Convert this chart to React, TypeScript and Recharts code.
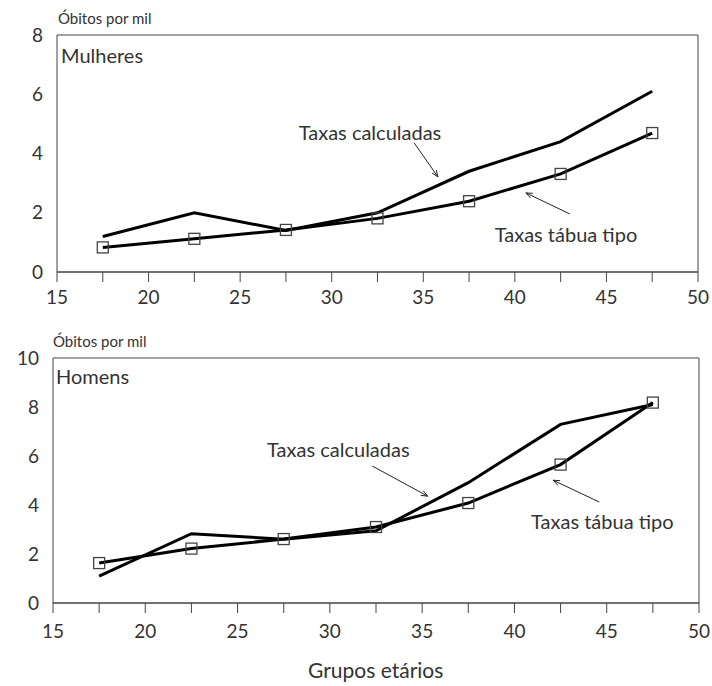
import React from 'react';
import {
  LineChart,
  Line,
  XAxis,
  YAxis,
  ReferenceArea,
  ReferenceLine,
  ReferenceDot,
} from 'recharts';

// midpoints of the five-year age groups
const ageGroups = [17.5, 22.5, 27.5, 32.5, 37.5, 42.5, 47.5];

const mulheresCalculadas = [1.2, 2.0, 1.4, 2.0, 3.4, 4.4, 6.1];
const mulheresTabua = [0.83, 1.12, 1.42, 1.81, 2.39, 3.31, 4.69];

const homensCalculadas = [1.1, 2.83, 2.6, 2.95, 4.91, 7.29, 8.1];
const homensTabua = [1.63, 2.22, 2.61, 3.1, 4.08, 5.65, 8.18];

const xTicks = [15, 17.5, 20, 22.5, 25, 27.5, 30, 32.5, 35, 37.5, 40, 42.5, 45, 47.5, 50];
const yTicksMulheres = [0, 2, 4, 6, 8];
const yTicksHomens = [0, 2, 4, 6, 8, 10];

// annotation text anchors and arrows, in data units [x, y]
const mulheresNotes = [
  { text: 'Taxas calculadas', at: [28.2, 4.7], from: [34.5, 4.36], to: [35.8, 3.21] },
  { text: 'Taxas tábua tipo', at: [38.9, 1.25], from: [43.0, 1.96], to: [40.6, 2.67] },
];
const homensNotes = [
  { text: 'Taxas calculadas', at: [26.6, 6.23], from: [32.3, 5.59], to: [35.3, 4.36] },
  { text: 'Taxas tábua tipo', at: [40.9, 3.31], from: [44.6, 4.12], to: [42.1, 5.01] },
];

const FONT = 'Lato, "Open Sans", sans-serif';
const INK = '#333';

const buildRows = (calc: number[], tabua: number[]) =>
  ageGroups.map((age, i) => ({ age, calculadas: calc[i], tabua: tabua[i] }));

const SquareDot = (props: any) => {
  const { cx, cy } = props;
  if (cx == null || cy == null) return null;
  return <rect x={cx - 5.5} y={cy - 5.5} width={11} height={11} fill="none" stroke="#444" strokeWidth={1.3} />;
};

const ArrowShape = (props: any) => {
  const { x1, y1, x2, y2 } = props;
  if (x1 == null) return null;
  const ang = Math.atan2(y2 - y1, x2 - x1);
  const len = 7;
  const spread = 0.38;
  const ax = x2 - len * Math.cos(ang - spread);
  const ay = y2 - len * Math.sin(ang - spread);
  const bx = x2 - len * Math.cos(ang + spread);
  const by = y2 - len * Math.sin(ang + spread);
  return (
    <g>
      <line x1={x1} y1={y1} x2={x2} y2={y2} stroke="#222" strokeWidth={1} />
      <path d={`M${ax},${ay} L${x2},${y2} L${bx},${by}`} fill="none" stroke="#222" strokeWidth={1} />
    </g>
  );
};

const NoteText = (text: string) => (props: any) => {
  const { cx, cy } = props;
  if (cx == null) return null;
  return (
    <text x={cx} y={cy} dy="0.35em" fontSize={20} fontFamily={FONT} fill={INK}>
      {text}
    </text>
  );
};

interface PanelProps {
  top: number;
  height: number;
  margin: { top: number; right: number; bottom: number; left: number };
  yMax: number;
  yTicks: number[];
  calc: number[];
  tabua: number[];
  notes: typeof mulheresNotes;
  xTickMargin: number;
}

const Panel: React.FC<PanelProps> = ({ top, height, margin, yMax, yTicks, calc, tabua, notes, xTickMargin }) => {
  const data = buildRows(calc, tabua);
  return (
    <div style={{ position: 'absolute', left: 0, top }}>
      <LineChart width={712} height={height} data={data} margin={margin}>
        <XAxis
          dataKey="age"
          type="number"
          domain={[15, 50]}
          ticks={xTicks}
          interval={0}
          tickFormatter={(v: number) => (v % 5 === 0 ? String(v) : '')}
          tickSize={10}
          tickMargin={xTickMargin}
          height={35}
          stroke="#444"
          tick={{ fill: INK, fontSize: 19, fontFamily: FONT }}
        />
        <YAxis
          type="number"
          domain={[0, yMax]}
          ticks={yTicks}
          interval={0}
          width={40}
          axisLine={false}
          tickLine={false}
          tickSize={0}
          tickMargin={14}
          tick={{ fill: INK, fontSize: 19, fontFamily: FONT }}
        />
        <ReferenceArea x1={15} x2={50} y1={0} y2={yMax} fill="none" stroke="#444" strokeWidth={1} ifOverflow="extendDomain" />
        <Line
          dataKey="calculadas"
          stroke="#000"
          strokeWidth={3}
          dot={false}
          isAnimationActive={false}
        />
        <Line
          dataKey="tabua"
          stroke="#000"
          strokeWidth={3}
          dot={<SquareDot />}
          isAnimationActive={false}
        />
        {notes.map((n) => (
          <ReferenceLine
            key={n.text + 'arrow'}
            segment={[
              { x: n.from[0], y: n.from[1] },
              { x: n.to[0], y: n.to[1] },
            ]}
            shape={<ArrowShape />}
          />
        ))}
        {notes.map((n) => (
          <ReferenceDot key={n.text} x={n.at[0]} y={n.at[1]} r={0} shape={NoteText(n.text)} />
        ))}
      </LineChart>
    </div>
  );
};

const labelStyle: React.CSSProperties = {
  position: 'absolute',
  fontFamily: FONT,
  color: INK,
  whiteSpace: 'nowrap',
  lineHeight: 1,
};

export default function App() {
  return (
    <div style={{ position: 'absolute', left: 0, top: 0, width: 712, height: 686, background: '#fff' }}>
      <Panel
        top={0}
        height={310}
        margin={{ top: 35, right: 14, bottom: 3, left: 17 }}
        yMax={8}
        yTicks={yTicksMulheres}
        calc={mulheresCalculadas}
        tabua={mulheresTabua}
        notes={mulheresNotes}
        xTickMargin={9}
      />
      <Panel
        top={320}
        height={330}
        margin={{ top: 38, right: 13, bottom: 12, left: 13 }}
        yMax={10}
        yTicks={yTicksHomens}
        calc={homensCalculadas}
        tabua={homensTabua}
        notes={homensNotes}
        xTickMargin={12}
      />
      <div style={{ ...labelStyle, left: 58, top: 11, fontSize: 15 }}>Óbitos por mil</div>
      <div style={{ ...labelStyle, left: 61, top: 45, fontSize: 20 }}>Mulheres</div>
      <div style={{ ...labelStyle, left: 53, top: 334, fontSize: 15 }}>Óbitos por mil</div>
      <div style={{ ...labelStyle, left: 56, top: 366, fontSize: 20 }}>Homens</div>
      <div style={{ ...labelStyle, left: 308, top: 659, fontSize: 21 }}>Grupos etários</div>
    </div>
  );
}
